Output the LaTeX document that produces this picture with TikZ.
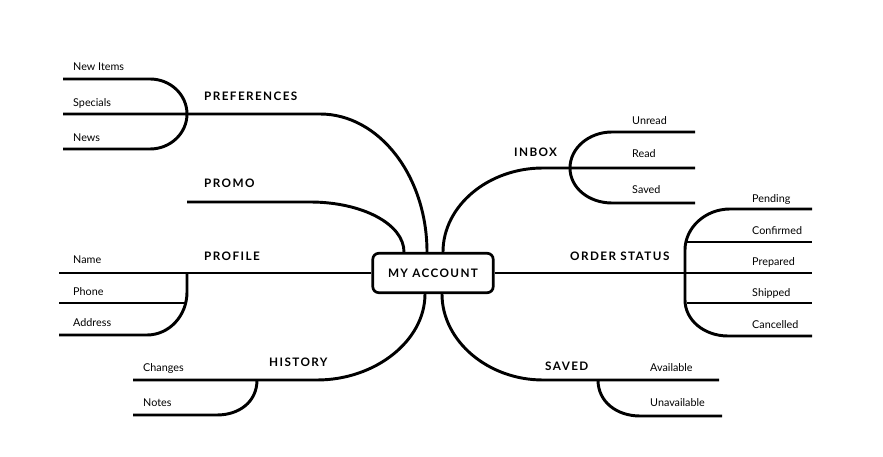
\documentclass[tikz,border=0pt]{standalone}
\usepackage{fontspec}
\setmainfont{Lato}
\newfontfamily\headfont{Lato}[LetterSpace=12]
\usetikzlibrary{calc}
\tikzset{hub/.style={rectangle,rounded corners=5pt,draw,line width=2.3pt,
		minimum width=3.61cm,minimum height=1.18cm,inner sep=0pt,
		font=\headfont\bfseries\fontsize{10}{12}\selectfont},
	topic/.style={anchor=base west,inner sep=0pt,font=\headfont\bfseries\fontsize{10}{12}\selectfont},
	leaf/.style={anchor=base west,inner sep=0pt,font=\fontsize{9.2}{11}\selectfont},
	branch/.style={line width=2.5pt}}
\begin{document}
\begin{tikzpicture}[x=0.03cm,y=-0.03cm]
	\useasboundingbox (0,0) rectangle (883,457);
	\node at (433,273) [hub] (acct){MY ACCOUNT};
	% topics
	\node at (204,101) [topic] (pref){PREFERENCES};
	\node at (204,188) [topic] (promo){PROMO};
	\node at (204,261) [topic] (prof){PROFILE};
	\node at (269,367) [topic] (hist){HISTORY};
	\node at (514,157) [topic] (inbox){INBOX};
	\node at (570,261) [topic] (order){ORDER STATUS};
	\node at (545,371) [topic] (saved){SAVED};
	% leaves
	\node at (73,70.5) [leaf] (newit){New Items};
	\node at (73,106.5) [leaf] (spec){Specials};
	\node at (73,141.5) [leaf] (news){News};
	\node at (73,263.5) [leaf] (name){Name};
	\node at (73,295.5) [leaf] (phone){Phone};
	\node at (73,326.5) [leaf] (addr){Address};
	\node at (143,371.5) [leaf] (chg){Changes};
	\node at (143,406.5) [leaf] (notes){Notes};
	\node at (632,124.5) [leaf] (unread){Unread};
	\node at (632,157.5) [leaf] (read){Read};
	\node at (632,193.5) [leaf] (svd){Saved};
	\node at (752,202.5) [leaf] (pend){Pending};
	\node at (752,234.5) [leaf] (conf){Confirmed};
	\node at (752,265.5) [leaf] (prep){Prepared};
	\node at (752,296.5) [leaf] (ship){Shipped};
	\node at (752,328.5) [leaf] (canc){Cancelled};
	\node at (650,371.5) [leaf] (avail){Available};
	\node at (650,406.5) [leaf] (unavail){Unavailable};
	% line ends
	\coordinate (prefA) at (63,79);
	\coordinate (prefB) at (63,114);
	\coordinate (prefC) at (63,149);
	\coordinate (promoA) at (187,202);
	\coordinate (profA) at (59,273);
	\coordinate (profB) at (59,303);
	\coordinate (profC) at (59,335);
	\coordinate (histA) at (133,380);
	\coordinate (histB) at (133,415);
	\coordinate (inboxA) at (695,132);
	\coordinate (inboxB) at (695,168);
	\coordinate (inboxC) at (695,203);
	\coordinate (ordA) at (812,209);
	\coordinate (ordB) at (812,242);
	\coordinate (ordC) at (812,273);
	\coordinate (ordD) at (812,303);
	\coordinate (ordE) at (812,336);
	\coordinate (savA) at (719,380);
	\coordinate (savB) at (722,416);

	% left branches
	\draw[branch] ($(acct.north)+(-6,0)$) .. controls +(0,-76) and +(59,0) .. (320,114) -- (prefB);
	\draw[branch] (prefA) -- (150,79) .. controls +(20.4,0) and +(0,-19.3) .. (187,114)
		.. controls +(0,19.3) and +(20.4,0) .. (150,149) -- (prefC);
	\draw[branch] ($(acct.north)+(-29,0)$) .. controls +(0,-28) and +(52,0) .. (310,202) -- (promoA);
	\draw[branch] (acct.west) -- (profA);
	\draw[branch] (187,273) -- (187,292) .. controls +(0,24) and +(22,0) .. (147,335) -- (profC);
	\draw[branch] (profB) -- (186,303);
	\draw[branch] ($(acct.south)+(-8,0)$) .. controls +(0,47) and +(58,0) .. (317,380) -- (histA);
	\draw[branch] (257,380) .. controls +(0,22) and +(22,0) .. (217,415) -- (histB);
	% right branches
	\draw[branch] ($(acct.north)+(10,0)$) .. controls +(0,-46) and +(-55,0) .. (543,168) -- (inboxB);
	\draw[branch] (inboxA) -- (612,132) .. controls +(-23,0) and +(0,-20) .. (570,168)
		.. controls +(0,20) and +(-23,0) .. (612,203) -- (inboxC);
	\draw[branch] (acct.east) -- (ordC);
	\draw[branch] (ordA) -- (730,209) .. controls +(-25,0) and +(0,-22) .. (685,250) -- (685,300)
		.. controls +(0,20) and +(-24,0) .. (728,336) -- (ordE);
	\draw[branch] (687,242) -- (ordB);
	\draw[branch] (687,303) -- (ordD);
	\draw[branch] ($(acct.south)+(9,0)$) .. controls +(0,47) and +(-55,0) .. (543,380) -- (savA);
	\draw[branch] (598,380) .. controls +(0,22) and +(-23,0) .. (640,416) -- (savB);
\end{tikzpicture}
\end{document}
